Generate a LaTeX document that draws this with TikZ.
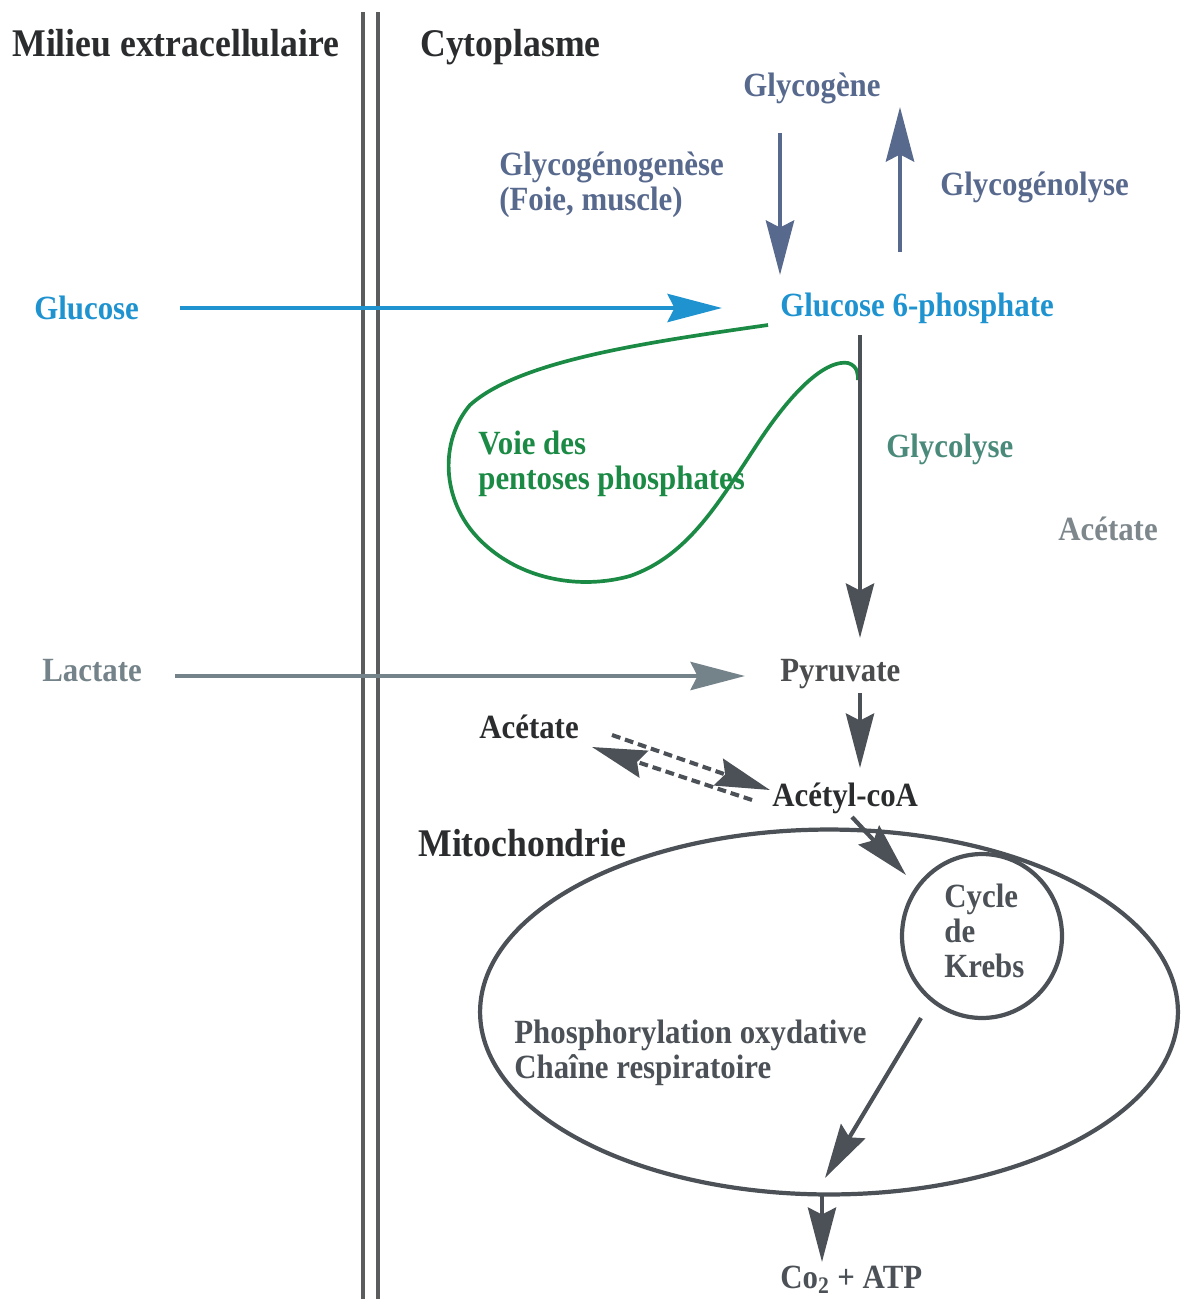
\documentclass[tikz,border=0pt]{standalone}
\usepackage{fontspec}
\setmainfont{Liberation Serif}[FakeStretch=0.91]
\usetikzlibrary{arrows.meta,shapes.geometric}
\definecolor{dk}{HTML}{4B5156}
\definecolor{hd}{HTML}{2A2C2E}
\definecolor{memb}{HTML}{5A5C5E}
\definecolor{glyc}{HTML}{58698E}
\definecolor{gluc}{HTML}{1E93D0}
\definecolor{gren}{HTML}{1B8A45}
\definecolor{glyco}{HTML}{4A8A7A}
\definecolor{acet}{HTML}{7D878C}
\definecolor{lact}{HTML}{748389}
\begin{document}
\begin{tikzpicture}[x=0.02cm,y=-0.02cm,
  lbl/.style={inner sep=0pt, anchor=base west, align=left, font=\bfseries\fontsize{19.3}{19.8}\selectfont},
  head/.style={lbl, font=\bfseries\fontsize{22.3}{24}\selectfont, text=hd},
  bigtip/.style={-{Stealth[length=31pt,width=16pt,inset=4pt]}},
  conn/.style={draw=dk, line width=2.4pt, bigtip},
  dashconn/.style={draw=dk, line width=2.3pt, dash pattern=on 5pt off 2.8pt, bigtip},
  membline/.style={draw=memb, line width=2.6pt},
  oval/.style={draw=dk, line width=2.4pt, ellipse, inner sep=0pt},
]
\useasboundingbox (0,0) rectangle (1182,1299);

% membrane
\coordinate (m1t) at (363,12); \coordinate (m1b) at (363,1299);
\coordinate (m2t) at (378,12); \coordinate (m2b) at (378,1299);
\draw[membline] (m1t) -- (m1b);
\draw[membline] (m2t) -- (m2b);

% headings
\node[head] (milieu) at (12,56) {Milieu extracellulaire};
\node[head] (cyto) at (420,56) {Cytoplasme};

% glycogen
\node[lbl, anchor=base, text=glyc] (glycogene) at (812,96) {Glycogène};
\node[lbl, text=glyc] (glycgen) at (499,210) {Glycogénogenèse\\(Foie, muscle)};
\node[lbl, text=glyc] (glycol) at (940,195) {Glycogénolyse};
\coordinate (gdA) at (780,133); \coordinate (gdB) at (780,275);
\coordinate (guA) at (900,252); \coordinate (guB) at (900,107);
\draw[draw=glyc, line width=2.7pt, bigtip] (gdA) -- (gdB);
\draw[draw=glyc, line width=2.7pt, bigtip] (guA) -- (guB);

% glucose
\node[lbl, text=gluc] (glucose) at (34,319) {Glucose};
\node[lbl, text=gluc] (g6p) at (780,316) {Glucose 6-phosphate};
\coordinate (glA) at (180,308); \coordinate (glB) at (722,308);
\draw[draw=gluc, line width=2.4pt, bigtip] (glA) -- (glB);

% pentoses loop
\node[lbl, text=gren] (pentose) at (478,489) {Voie des\\pentoses phosphates};
\coordinate (pA) at (768,325); \coordinate (pB) at (858,380);
\draw[gren, line width=2.1pt] (pA)
  .. controls (650,342) and (520,360) .. (470,405)
  .. controls (440,440) and (440,500) .. (480,540)
  .. controls (520,580) and (580,590) .. (630,576)
  .. controls (690,555) and (720,500) .. (760,440)
  .. controls (800,380) and (830,360) .. (848,363)
  .. controls (858,366) and (858,375) .. (pB);

% glycolysis
\node[lbl, text=glyco] (glycolyse) at (886,457) {Glycolyse};
\node[lbl, text=acet] (acetR) at (1058,540) {Acétate};
\coordinate (gyA) at (860,335); \coordinate (gyB) at (860,638);
\draw[conn] (gyA) -- (gyB);

% lactate / pyruvate
\node[lbl, text=lact] (lactate) at (42,681) {Lactate};
\node[lbl, text=hd!85!white] (pyruvate) at (780,681) {Pyruvate};
\coordinate (lcA) at (175,676); \coordinate (lcB) at (745,676);
\draw[draw=lact, line width=2.5pt, bigtip] (lcA) -- (lcB);
\coordinate (pyA) at (860,693); \coordinate (pyB) at (860,768);
\draw[conn] (pyA) -- (pyB);

% acetate / acetyl-coA
\node[lbl, text=hd] (acetL) at (479,738) {Acétate};
\node[lbl, text=hd] (acetyl) at (772,806) {Acétyl-coA};
\coordinate (daA) at (612,735); \coordinate (daB) at (770,790);
\coordinate (dbA) at (752,800); \coordinate (dbB) at (592,747);
\draw[dashconn] (daA) -- (daB);
\draw[dashconn] (dbA) -- (dbB);

% mitochondria
\node[head] (mito) at (418,856) {Mitochondrie};
\node[oval, minimum width=13.96cm, minimum height=7.3cm] (mitoc) at (829,1012) {};
\node[oval, minimum width=3.2cm, minimum height=3.28cm] (krebs) at (982,936) {};
\node[lbl, text=dk] (krebst) at (944,977) {Cycle\\de\\Krebs};
\node[lbl, text=dk] (phos) at (514,1078) {Phosphorylation oxydative\\Chaîne respiratoire};

\coordinate (akA) at (852,817); \coordinate (akB) at (906,875);
\draw[conn] (akA) -- (akB);
\coordinate (kbA) at (921,1018); \coordinate (kbB) at (825,1178);
\draw[conn] (kbA) -- (kbB);
\coordinate (bdA) at (822,1195); \coordinate (bdB) at (822,1262);
\draw[conn] (bdA) -- (bdB);
\node[lbl, text=dk] (atp) at (780,1288) {Co\textsubscript{2} + ATP};
\end{tikzpicture}
\end{document}
